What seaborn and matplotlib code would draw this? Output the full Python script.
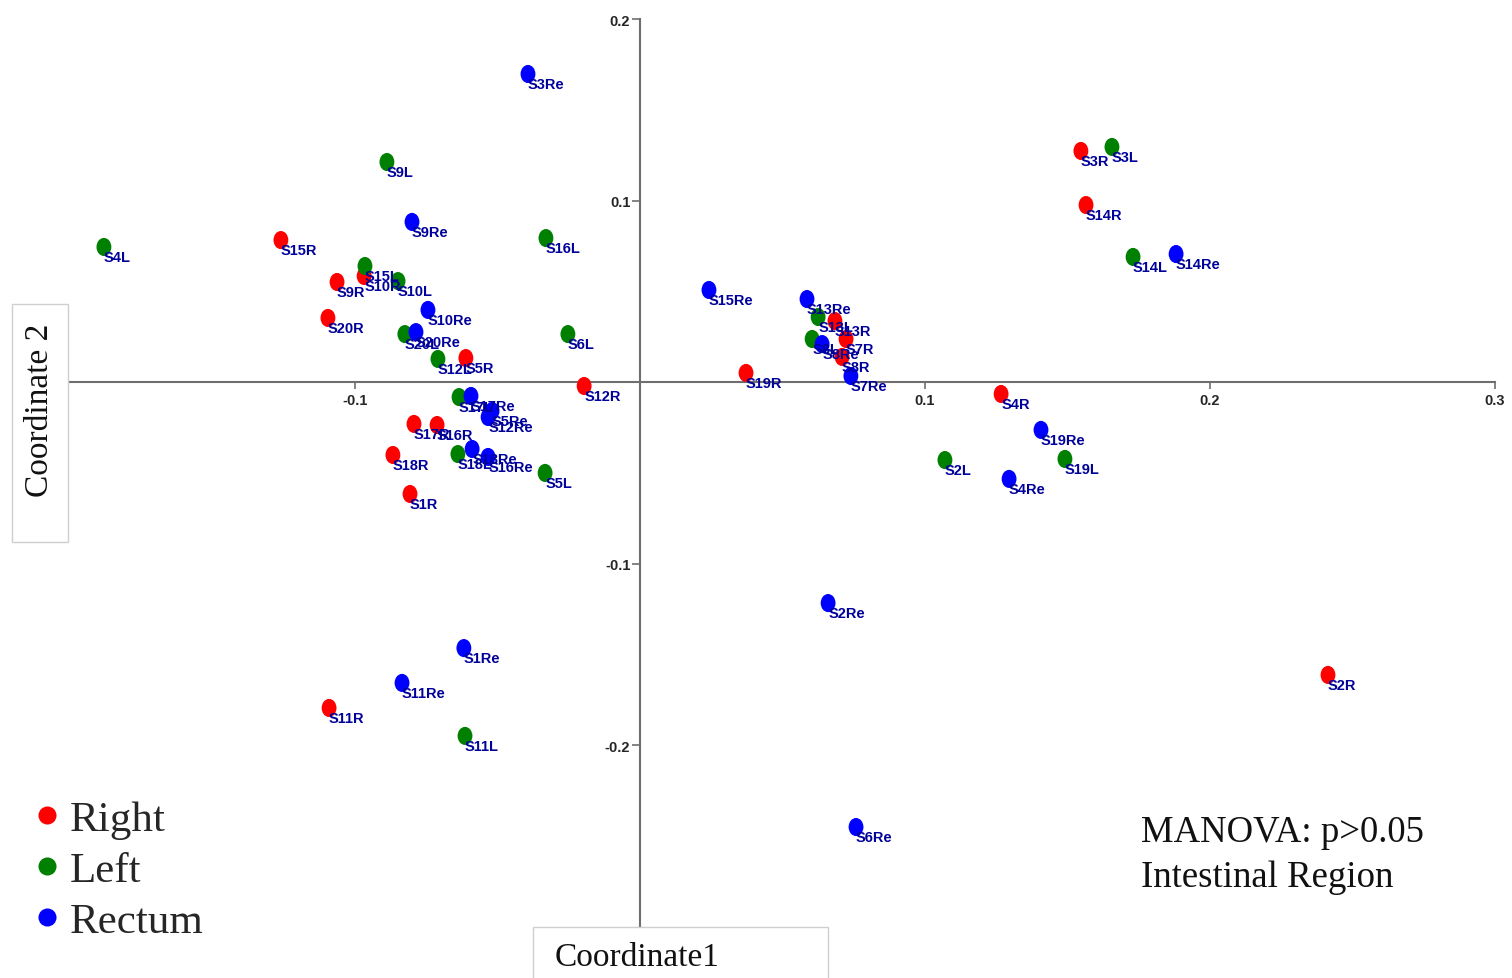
import numpy as np
import pandas as pd
import matplotlib
matplotlib.use("Agg")
import matplotlib.pyplot as plt
from matplotlib.path import Path
from matplotlib.patches import Rectangle
from matplotlib.lines import Line2D
import seaborn as sns

# ---------------- data ----------------
right_labels = ["S15R", "S9R", "S10R", "S20R", "S5R", "S12R", "S17R", "S16R", "S18R", "S1R",
                "S11R", "S19R", "S13R", "S7R", "S8R", "S3R", "S14R", "S4R", "S2R"]
right_x = [-0.126, -0.1063, -0.0968, -0.1095, -0.0611, -0.0196, -0.0793, -0.0712, -0.0867, -0.0807,
           -0.1091, 0.0372, 0.0684, 0.0723, 0.0709, 0.1547, 0.1565, 0.1267, 0.2414]
right_y = [0.0782, 0.0551, 0.0584, 0.0353, 0.0132, -0.0022, -0.0231, -0.0237, -0.0402, -0.0617,
           -0.1796, 0.0050, 0.0336, 0.0237, 0.0138, 0.1273, 0.0975, -0.0066, -0.1614]

left_labels = ["S4L", "S9L", "S15L", "S10L", "S20L", "S12L", "S16L", "S6L", "S17L", "S18L",
               "S5L", "S11L", "S13L", "S8L", "S3L", "S14L", "S2L", "S19L"]
left_x = [-0.1881, -0.0888, -0.0965, -0.0849, -0.0825, -0.0709, -0.0330, -0.0253, -0.0635, -0.0639,
          -0.0333, -0.0614, 0.0625, 0.0604, 0.1656, 0.1730, 0.1070, 0.1491]
left_y = [0.0744, 0.1212, 0.0639, 0.0556, 0.0264, 0.0127, 0.0793, 0.0264, -0.0083, -0.0397,
          -0.0501, -0.1950, 0.0358, 0.0237, 0.1295, 0.0689, -0.0430, -0.0424]

rectum_labels = ["S3Re", "S9Re", "S10Re", "S20Re", "S17Re", "S5Re", "S12Re", "S18Re", "S16Re", "S1Re",
                 "S11Re", "S15Re", "S13Re", "S8Re", "S7Re", "S14Re", "S19Re", "S4Re", "S2Re", "S6Re"]
rectum_x = [-0.0393, -0.0800, -0.0744, -0.0786, -0.0593, -0.0519, -0.0533, -0.0589, -0.0533, -0.0618,
            -0.0835, 0.0242, 0.0586, 0.0639, 0.0740, 0.1881, 0.1407, 0.1295, 0.0660, 0.0758]
rectum_y = [0.1697, 0.0882, 0.0397, 0.0275, -0.0077, -0.0160, -0.0193, -0.0369, -0.0413, -0.1466,
            -0.1658, 0.0507, 0.0457, 0.0209, 0.0033, 0.0705, -0.0264, -0.0534, -0.1218, -0.2452]

groups = ["Right", "Left", "Rectum"]
group_colors = ["#FF0000", "#008000", "#0000FF"]

x_ticks = [-0.1, 0.1, 0.2, 0.3]
y_ticks = [-0.2, -0.1, 0.1, 0.2]
x_lim = (-0.2, 0.3)
y_lim = (-0.3, 0.2)

df = pd.DataFrame({
    "label": right_labels + left_labels + rectum_labels,
    "x": right_x + left_x + rectum_x,
    "y": right_y + left_y + rectum_y,
    "Region": ["Right"] * len(right_labels) + ["Left"] * len(left_labels) + ["Rectum"] * len(rectum_labels),
})

# ---------------- figure ----------------
sns.set_theme(style="white")
plt.rcParams["font.family"] = ["Liberation Sans", "DejaVu Sans"]

W, H = 1512, 979
fig = plt.figure(figsize=(W / 100, H / 100), dpi=100)
ax = fig.add_axes([70 / W, 1 - 927.5 / H, 1425 / W, 907.5 / H])

circ = Path.unit_circle()
ellipse = Path(circ.vertices * np.array([0.82, 1.0]), circ.codes)

palette = dict(zip(groups, group_colors))
sns.scatterplot(data=df, x="x", y="y", hue="Region", hue_order=groups, palette=palette,
                marker=ellipse, s=170, linewidth=0, legend=False, ax=ax, zorder=3)

label_font = ["Liberation Sans", "DejaVu Sans"]
for _, r in df.iterrows():
    ax.annotate(r["label"], (r["x"], r["y"]), xytext=(0, -7), textcoords="offset points",
                ha="left", va="center", fontsize=10.5, fontweight="bold", color="#00009A",
                family=label_font, zorder=5)

ax.set_xlim(*x_lim)
ax.set_ylim(*y_lim)
ax.set_xlabel("")
ax.set_ylabel("")
for s in ["top", "right"]:
    ax.spines[s].set_visible(False)
for s in ["left", "bottom"]:
    ax.spines[s].set_position(("data", 0))
    ax.spines[s].set_color("#6E6E6E")
    ax.spines[s].set_linewidth(1.5)

ax.set_xticks(x_ticks)
ax.set_yticks(y_ticks)
ax.set_xticklabels([f"{v:g}" for v in x_ticks], fontsize=10.5, fontweight="bold", family=label_font)
ax.set_yticklabels([f"{v:g}" for v in y_ticks], fontsize=10.5, fontweight="bold", family=label_font)
ax.tick_params(axis="x", direction="out", length=5, width=1.2, color="#6E6E6E", pad=3, bottom=True)
ax.tick_params(axis="y", direction="out", length=6, width=1.2, color="#6E6E6E", pad=1, left=True)
ax.grid(False)
ax.set_facecolor("white")

serif = ["Liberation Serif", "DejaVu Serif"]

# axis title boxes
fig.patches.append(Rectangle((12 / W, 1 - 543 / H), 56 / W, 238 / H, transform=fig.transFigure,
                             fill=False, ec="#CFCFCF", lw=1))
fig.text(40 / W, 1 - 410 / H, "Coordinate 2", rotation=90, ha="center", va="center",
         fontsize=24, family=serif, color="#111111")
fig.patches.append(Rectangle((533 / W, 1 - 985 / H), 295 / W, 57 / H, transform=fig.transFigure,
                             fill=False, ec="#CFCFCF", lw=1))
fig.text(637 / W, 1 - 958 / H, "Coordinate1", ha="center", va="center",
         fontsize=24, family=serif, color="#111111")

# legend
handles = [Line2D([], [], marker="o", linestyle="none", markersize=13, markerfacecolor=c,
                  markeredgewidth=0) for c in group_colors]
fig.legend(handles, groups, loc="upper left", bbox_to_anchor=(31 / W, 1 - 801 / H),
           frameon=False, prop={"family": serif, "size": 31}, handlelength=0.75,
           handletextpad=0.15, borderpad=0, borderaxespad=0, labelspacing=0.27)

fig.text(1141 / W, 1 - 833 / H, "MANOVA: p>0.05", ha="left", va="center",
         fontsize=26.5, family=serif, color="#111111")
fig.text(1141 / W, 1 - 878 / H, "Intestinal Region", ha="left", va="center",
         fontsize=26.5, family=serif, color="#111111")

fig.savefig("out.png", dpi=100, facecolor="white")
